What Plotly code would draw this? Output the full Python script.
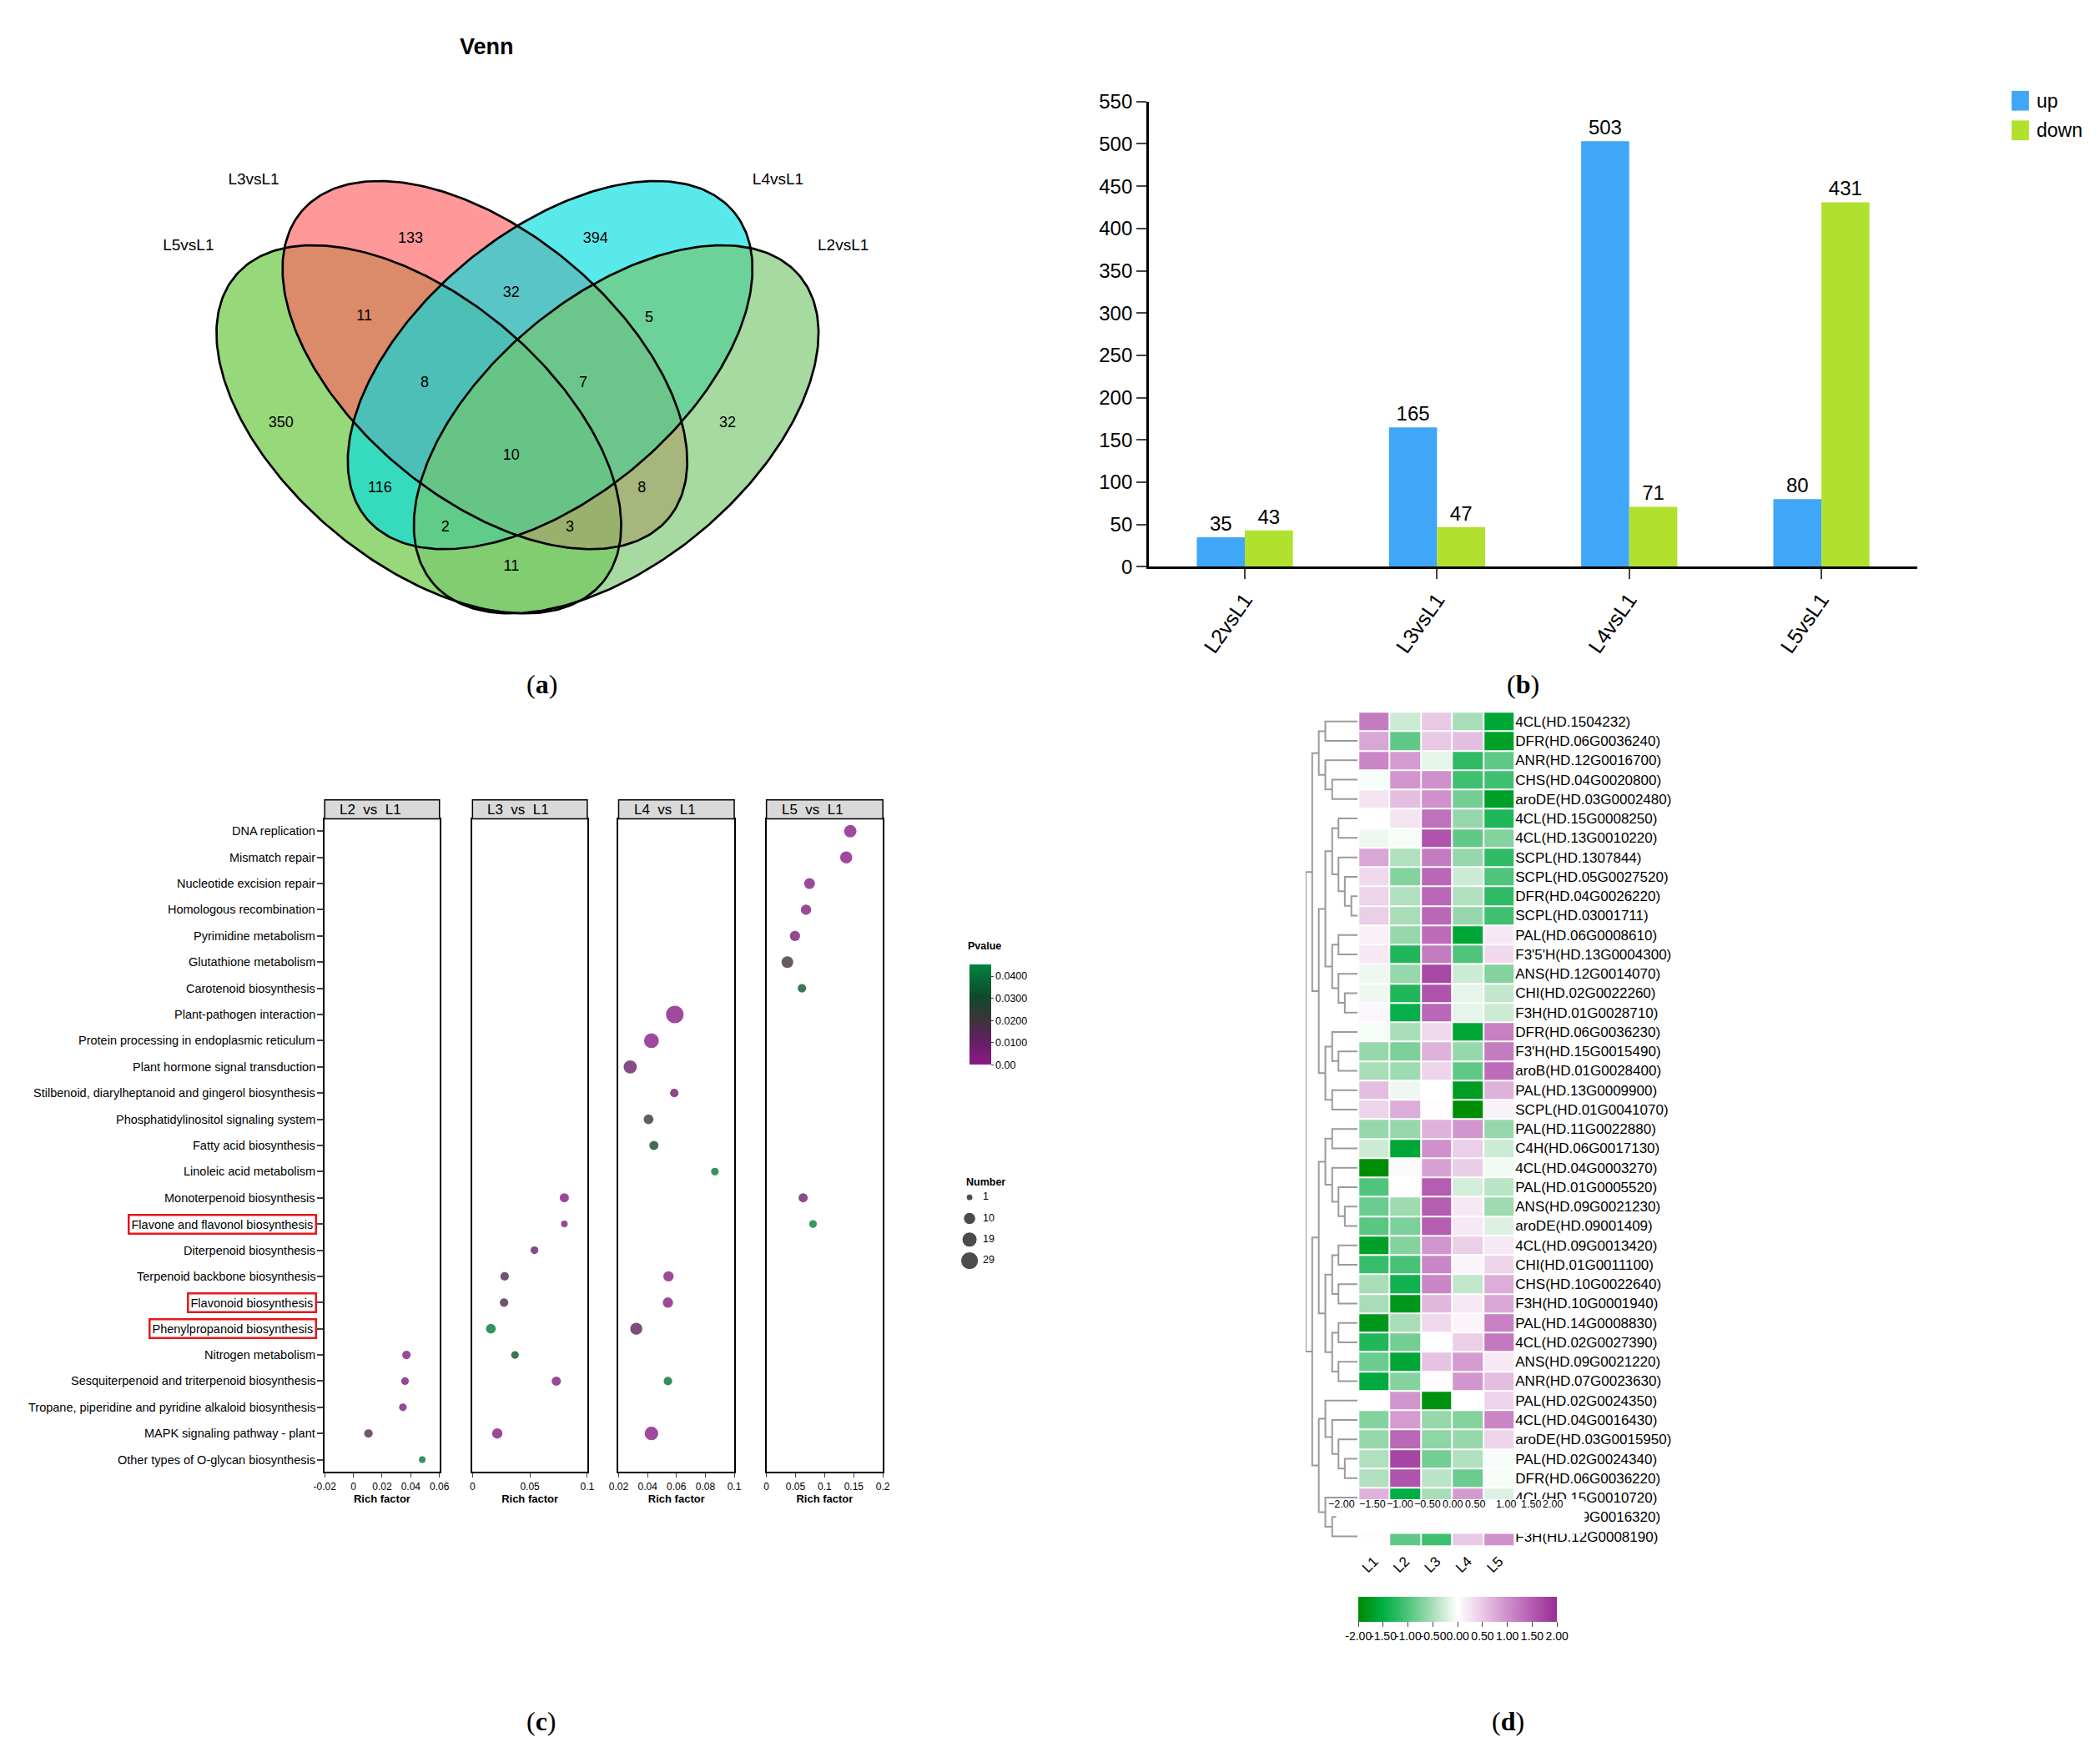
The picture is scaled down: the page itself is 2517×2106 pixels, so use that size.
import numpy as np
import plotly.graph_objects as go

W, H = 2517, 2106
FONT = "Arial, Liberation Sans, sans-serif"
PAGE_MARGIN = 8  # default <body> margin of the page the figure sits in

# ---------------- (a) Venn ----------------
venn_sets = ["L5vsL1", "L3vsL1", "L4vsL1", "L2vsL1"]
venn_regions = ["L3", "L4", "L3&L5", "L3&L4", "L4&L2", "L5", "L3&L4&L5", "L3&L4&L2",
                "L2", "L2&L3&L4&L5", "L4&L5", "L3&L2", "L4&L5&L2", "L3&L5&L2", "L5&L2"]
venn_counts = [133, 394, 11, 32, 5, 350, 8, 7, 32, 10, 116, 8, 2, 3, 11]

# ---------------- (b) DEG counts ----------------
bar_groups = ["L2vsL1", "L3vsL1", "L4vsL1", "L5vsL1"]
bar_up = [35, 165, 503, 80]
bar_down = [43, 47, 71, 431]

# ---------------- (c) KEGG enrichment ----------------
pathways = [
    "DNA replication", "Mismatch repair", "Nucleotide excision repair",
    "Homologous recombination", "Pyrimidine metabolism", "Glutathione metabolism",
    "Carotenoid biosynthesis", "Plant-pathogen interaction",
    "Protein processing in endoplasmic reticulum", "Plant hormone signal transduction",
    "Stilbenoid, diarylheptanoid and gingerol biosynthesis",
    "Phosphatidylinositol signaling system", "Fatty acid biosynthesis",
    "Linoleic acid metabolism", "Monoterpenoid biosynthesis",
    "Flavone and flavonol biosynthesis", "Diterpenoid biosynthesis",
    "Terpenoid backbone biosynthesis", "Flavonoid biosynthesis",
    "Phenylpropanoid biosynthesis", "Nitrogen metabolism",
    "Sesquiterpenoid and triterpenoid biosynthesis",
    "Tropane, piperidine and pyridine alkaloid biosynthesis",
    "MAPK signaling pathway - plant", "Other types of O-glycan biosynthesis",
]
boxed_pathways = ["Flavone and flavonol biosynthesis", "Flavonoid biosynthesis",
                  "Phenylpropanoid biosynthesis"]
facet_titles = ["L2\u00a0\u00a0vs\u00a0\u00a0L1", "L3\u00a0\u00a0vs\u00a0\u00a0L1",
                "L4\u00a0\u00a0vs\u00a0\u00a0L1", "L5\u00a0\u00a0vs\u00a0\u00a0L1"]

l2_terms = ["Nitrogen metabolism", "Sesquiterpenoid and triterpenoid biosynthesis",
            "Tropane, piperidine and pyridine alkaloid biosynthesis",
            "MAPK signaling pathway - plant", "Other types of O-glycan biosynthesis"]
l2_rich = [0.037, 0.036, 0.0345, 0.0105, 0.048]
l2_p = [0.003, 0.004, 0.004, 0.015, 0.042]
l2_num = [3, 2, 2, 3, 1]

l3_terms = ["Monoterpenoid biosynthesis", "Flavone and flavonol biosynthesis",
            "Diterpenoid biosynthesis", "Terpenoid backbone biosynthesis",
            "Flavonoid biosynthesis", "Phenylpropanoid biosynthesis", "Nitrogen metabolism",
            "Sesquiterpenoid and triterpenoid biosynthesis", "MAPK signaling pathway - plant"]
l3_rich = [0.080, 0.080, 0.054, 0.028, 0.0275, 0.016, 0.037, 0.073, 0.0216]
l3_p = [0.002, 0.004, 0.010, 0.016, 0.017, 0.042, 0.033, 0.003, 0.002]
l3_num = [4, 1, 2, 3, 3, 5, 2, 4, 6]

l4_terms = ["Plant-pathogen interaction", "Protein processing in endoplasmic reticulum",
            "Plant hormone signal transduction",
            "Stilbenoid, diarylheptanoid and gingerol biosynthesis",
            "Phosphatidylinositol signaling system", "Fatty acid biosynthesis",
            "Linoleic acid metabolism", "Terpenoid backbone biosynthesis",
            "Flavonoid biosynthesis", "Phenylpropanoid biosynthesis",
            "Sesquiterpenoid and triterpenoid biosynthesis", "MAPK signaling pathway - plant"]
l4_rich = [0.0589, 0.0427, 0.028, 0.0585, 0.0407, 0.0444, 0.0866, 0.0545, 0.0541,
           0.0322, 0.0541, 0.0427]
l4_p = [0.0005, 0.001, 0.009, 0.008, 0.020, 0.030, 0.042, 0.002, 0.002, 0.012, 0.040, 0.001]
l4_num = [29, 18, 13, 3, 5, 4, 2, 6, 6, 10, 3, 14]

l5_terms = ["DNA replication", "Mismatch repair", "Nucleotide excision repair",
            "Homologous recombination", "Pyrimidine metabolism", "Glutathione metabolism",
            "Carotenoid biosynthesis", "Monoterpenoid biosynthesis",
            "Flavone and flavonol biosynthesis"]
l5_rich = [0.144, 0.137, 0.074, 0.068, 0.049, 0.036, 0.061, 0.063, 0.080]
l5_p = [0.0002, 0.0005, 0.002, 0.003, 0.005, 0.019, 0.033, 0.008, 0.045]
l5_num = [11, 10, 7, 6, 6, 9, 3, 4, 2]

size_legend = [1, 10, 19, 29]

# ---------------- (d) heatmap ----------------
samples = ["L1", "L2", "L3", "L4", "L5"]
genes = [
    "4CL(HD.1504232)", "DFR(HD.06G0036240)", "ANR(HD.12G0016700)", "CHS(HD.04G0020800)",
    "aroDE(HD.03G0002480)", "4CL(HD.15G0008250)", "4CL(HD.13G0010220)", "SCPL(HD.1307844)",
    "SCPL(HD.05G0027520)", "DFR(HD.04G0026220)", "SCPL(HD.03001711)", "PAL(HD.06G0008610)",
    "F3'5'H(HD.13G0004300)", "ANS(HD.12G0014070)", "CHI(HD.02G0022260)", "F3H(HD.01G0028710)",
    "DFR(HD.06G0036230)", "F3'H(HD.15G0015490)", "aroB(HD.01G0028400)", "PAL(HD.13G0009900)",
    "SCPL(HD.01G0041070)", "PAL(HD.11G0022880)", "C4H(HD.06G0017130)", "4CL(HD.04G0003270)",
    "PAL(HD.01G0005520)", "ANS(HD.09G0021230)", "aroDE(HD.09001409)", "4CL(HD.09G0013420)",
    "CHI(HD.01G0011100)", "CHS(HD.10G0022640)", "F3H(HD.10G0001940)", "PAL(HD.14G0008830)",
    "4CL(HD.02G0027390)", "ANS(HD.09G0021220)", "ANR(HD.07G0023630)", "PAL(HD.02G0024350)",
    "4CL(HD.04G0016430)", "aroDE(HD.03G0015950)", "PAL(HD.02G0024340)", "DFR(HD.06G0036220)",
    "4CL(HD.15G0010720)", "ANS(HD.09G0016320)", "F3H(HD.12G0008190)",
]
hm_L1 = [1.2, 0.8, 1.1, -0.05, 0.25, 0.0, -0.1, 0.8, 0.35, 0.4, 0.45, 0.15, 0.2, -0.1,
         -0.1, 0.08, -0.05, -0.6, -0.5, 0.6, 0.4, -0.6, -0.3, -1.95, -1.0, -0.85, -0.95,
         -1.7, -1.15, -0.5, -0.5, -1.8, -1.3, -0.85, -1.55, 0.0, -0.7, -0.6, -0.45, -0.45,
         0.7, 0.2, 0.03]
hm_L2 = [-0.3, -0.9, 0.9, 0.95, 0.6, 0.25, -0.05, -0.45, -0.7, -0.45, -0.5, -0.6, -1.3,
         -0.6, -1.3, -1.45, -0.5, -0.75, -0.55, -0.1, 0.75, -0.6, -1.6, 0.05, 0.0, -0.55,
         -0.75, -0.7, -1.05, -1.4, -1.8, -0.5, -0.8, -1.6, -0.7, 0.95, 0.9, 1.4, 1.75, 1.6,
         -1.5, -0.3, -0.9]
hm_L3 = [0.5, 0.5, -0.15, 1.0, 1.0, 1.3, 1.6, 1.2, 1.4, 1.4, 1.4, 1.35, 1.2, 1.7, 1.6,
         1.4, 0.35, 0.7, 0.4, 0.0, 0.03, 0.7, 1.0, 0.85, 1.5, 1.5, 1.5, 0.95, 1.1, 1.1,
         0.65, 0.35, 0.0, 0.55, 0.03, -1.9, -0.6, -0.65, -0.8, -0.4, -0.5, 0.4, -1.1]
hm_L4 = [-0.5, 0.6, -1.2, -1.1, -0.8, -0.6, -0.9, -0.6, -0.3, -0.45, -0.6, -1.6, -1.0,
         -0.3, -0.15, -0.15, -1.6, -0.6, -0.9, -1.75, -1.95, 0.95, 0.45, 0.45, -0.25, 0.2,
         0.2, 0.45, 0.1, -0.35, 0.2, 0.1, 0.45, 0.9, 0.95, 0.0, -0.7, -0.6, -0.45, -0.85,
         0.9, -0.2, 0.5]
hm_L5 = [-1.6, -1.7, -0.9, -1.1, -1.7, -1.3, -0.7, -1.2, -1.0, -1.2, -1.1, 0.2, 0.35, -0.7,
         -0.35, -0.3, 1.15, 1.2, 1.35, 0.7, 0.12, -0.6, -0.3, -0.08, -0.4, -0.55, -0.2, 0.2,
         0.4, 0.75, 0.8, 1.15, 1.25, 0.2, 0.6, 0.4, 1.1, 0.4, -0.05, -0.05, -0.2, 0.1, 1.0]

# row clustering: (merge height, left, right), leaves = row index
dendro_tree = (190,
    (166,
        (142, (118, 0, 1), (118, 2, (93, 3, 4))),
        (142,
            (118,
                (93, (70, 5, 6), (70, 7, (47, 8, (23, 9, 10)))),
                (93, (70, 11, 12), (70, 13, (47, 14, 15)))),
            (118, (93, 16, (70, 17, 18)), (93, 19, 20)))),
    (166,
        (142,
            (118, (93, 21, 22), (93, 23, (70, 24, (47, 25, 26)))),
            (118, (93, (70, 27, 28), (70, 29, 30)), (93, (70, 31, 32), (70, 33, 34)))),
        (142,
            (118, 35, (93, 36, (70, 37, (47, 38, 39)))),
            (118, 40, (93, 41, 42)))))

# text of the stray colour-key axis printed over the heatmap
stray_ticks = ["\u22122.00", "\u22121.50", "\u22121.00", "\u22120.50", "0.00", "0.50",
               "1.00", "1.50", "2.00"]


# ---------------- helpers ----------------
def fx(p):
    return (p - PAGE_MARGIN) / W


def fy(p):
    return 1 - (p - PAGE_MARGIN) / H


def ellipse(cx, cy, a, b, ang, n=300):
    t = np.linspace(0, 2 * np.pi, n)
    r = np.radians(ang)
    x = cx + a * np.cos(t) * np.cos(r) - b * np.sin(t) * np.sin(r)
    y = cy + a * np.cos(t) * np.sin(r) + b * np.sin(t) * np.cos(r)
    return x, y


def note(text, x, y, size, xanchor="center", **kw):
    return dict(text=text, x=fx(x), y=fy(y), xref="paper", yref="paper", showarrow=False,
                xanchor=xanchor, yanchor="middle",
                font=dict(family=kw.pop("family", FONT), size=size, color="black"), **kw)


fig = go.Figure()
annotations = []
shapes = []
layout_axes = {}

# ======== (a) Venn ========
venn_geom = {"L5vsL1": (493, 507, 40), "L3vsL1": (573, 429, 40),
             "L4vsL1": (652, 429, 140), "L2vsL1": (732, 507, 140)}
venn_fill = {"L5vsL1": "rgba(95,195,51,0.65)", "L3vsL1": "rgba(255,98,98,0.65)",
             "L4vsL1": "rgba(0,221,224,0.65)", "L2vsL1": "rgba(118,198,109,0.65)"}
venn_set_label_xy = {"L5vsL1": (214, 285), "L3vsL1": (293, 205),
                     "L4vsL1": (928, 205), "L2vsL1": (1007, 285)}
venn_label_xy = [(483, 276), (707, 276), (427, 370), (605, 342), (772, 372), (326, 500),
                 (500, 451), (692, 451), (867, 500), (605, 539), (446, 579), (763, 579),
                 (525, 626), (676, 626), (605, 674)]

for s in venn_sets:
    cx, cy, ang = venn_geom[s]
    ex, ey = ellipse(cx, cy, 290, 161, ang)
    fig.add_trace(go.Scatter(x=ex, y=ey, mode="lines", fill="toself",
                             fillcolor=venn_fill[s], line=dict(width=0),
                             hoverinfo="skip", showlegend=False, xaxis="x", yaxis="y"))
for s in venn_sets:
    cx, cy, ang = venn_geom[s]
    ex, ey = ellipse(cx, cy, 290, 161, ang)
    fig.add_trace(go.Scatter(x=ex, y=ey, mode="lines", line=dict(color="black", width=2.7),
                             hoverinfo="skip", showlegend=False, xaxis="x", yaxis="y"))
fig.add_trace(go.Scatter(
    x=[p[0] for p in venn_label_xy], y=[p[1] for p in venn_label_xy],
    text=[str(c) for c in venn_counts], mode="text",
    textfont=dict(family=FONT, size=18, color="black"),
    hoverinfo="skip", showlegend=False, xaxis="x", yaxis="y"))
fig.add_trace(go.Scatter(
    x=[venn_set_label_xy[s][0] for s in venn_sets],
    y=[venn_set_label_xy[s][1] for s in venn_sets],
    text=venn_sets, mode="text", textfont=dict(family=FONT, size=19, color="black"),
    hoverinfo="skip", showlegend=False, xaxis="x", yaxis="y"))
layout_axes["xaxis"] = dict(domain=[fx(20), fx(1240)], range=[20, 1240], visible=False)
layout_axes["yaxis"] = dict(domain=[fy(800), fy(20)], range=[800, 20], visible=False)
annotations.append(note("<b>Venn</b>", 575, 42, 27))

# ======== (b) bars ========
UP_C, DOWN_C = "#40A6F7", "#B0E12F"
for vals, name, col in [(bar_up, "up", UP_C), (bar_down, "down", DOWN_C)]:
    fig.add_trace(go.Bar(x=bar_groups, y=vals, name=name,
                         marker=dict(color=col, line=dict(width=0)),
                         text=vals, textposition="outside", cliponaxis=False,
                         textfont=dict(family=FONT, size=24, color="black"),
                         xaxis="x2", yaxis="y2", showlegend=False))
layout_axes["xaxis2"] = dict(domain=[fx(1377), fx(2308)], anchor="y2", showline=True,
                             linecolor="black", linewidth=2.5, ticks="outside", ticklen=12,
                             tickwidth=2, tickangle=-55,
                             tickfont=dict(family=FONT, size=25, color="black"))
layout_axes["yaxis2"] = dict(domain=[fy(674), fy(109)], anchor="x2", range=[0, 550],
                             tickvals=list(range(0, 551, 50)), showline=True,
                             linecolor="black", linewidth=2.5, ticks="outside", ticklen=12,
                             tickwidth=2, tickfont=dict(family=FONT, size=24, color="black"))
for i, (name, col) in enumerate([("up", UP_C), ("down", DOWN_C)]):
    yc = 108 + 36 * i
    shapes.append(dict(type="rect", xref="paper", yref="paper", x0=fx(2422), x1=fx(2443),
                       y0=fy(yc + 12), y1=fy(yc - 12), fillcolor=col, line=dict(width=0)))
    annotations.append(note(name, 2450, yc, 23, xanchor="left"))

# ======== (c) enrichment bubbles ========
facet_px = [(379, 518), (558, 697), (735, 875), (914, 1055)]
facet_ranges = [[-0.02, 0.06], [0, 0.1], [0.02, 0.1], [0, 0.2]]
facet_ticks = [([-0.02, 0, 0.02, 0.04, 0.06], ["-0.02", "0", "0.02", "0.04", "0.06"]),
               ([0, 0.05, 0.1], ["0", "0.05", "0.1"]),
               ([0.02, 0.04, 0.06, 0.08, 0.1], ["0.02", "0.04", "0.06", "0.08", "0.1"]),
               ([0, 0.05, 0.1, 0.15, 0.2], ["0", "0.05", "0.1", "0.15", "0.2"])]
facet_data = [(l2_terms, l2_rich, l2_p, l2_num), (l3_terms, l3_rich, l3_p, l3_num),
              (l4_terms, l4_rich, l4_p, l4_num), (l5_terms, l5_rich, l5_p, l5_num)]
PANEL_TOP, PANEL_BOT, STRIP_TOP = 980, 1773, 957


def bubble(n):
    return 5 + 3 * np.sqrt(n)


for k, ((terms, rich, pv, num), (x0, x1)) in enumerate(zip(facet_data, facet_px)):
    ax = 3 + k
    fig.add_trace(go.Scatter(
        x=rich, y=[pathways.index(t) for t in terms], mode="markers",
        marker=dict(size=[bubble(n) for n in num], color=pv, coloraxis="coloraxis",
                    opacity=0.8, line=dict(width=0)),
        hoverinfo="skip", showlegend=False, xaxis=f"x{ax}", yaxis=f"y{ax}"))
    tv, tt = facet_ticks[k]
    layout_axes[f"xaxis{ax}"] = dict(
        domain=[fx(x0), fx(x1)], anchor=f"y{ax}", range=facet_ranges[k], tickvals=tv,
        ticktext=tt, showline=True, mirror=True, linecolor="black", linewidth=2,
        ticks="outside", ticklen=5, tickfont=dict(family=FONT, size=12, color="black"),
        title=dict(text="<b>Rich factor</b>", standoff=4,
                   font=dict(family=FONT, size=13, color="black")))
    layout_axes[f"yaxis{ax}"] = dict(
        domain=[fy(PANEL_BOT), fy(PANEL_TOP)], anchor=f"x{ax}", range=[24.47, -0.47],
        showline=True, mirror=True, linecolor="black", linewidth=2,
        tickvals=list(range(len(pathways))) if k == 0 else [],
        ticks="outside" if k == 0 else "", ticklen=7, tickwidth=2, showticklabels=False)
    shapes.append(dict(type="rect", xref="paper", yref="paper", x0=fx(x0), x1=fx(x1),
                       y0=fy(PANEL_TOP), y1=fy(STRIP_TOP), fillcolor="#D9D9D9",
                       line=dict(color="black", width=1.5)))
    annotations.append(note(facet_titles[k], x0 + 0.4 * (x1 - x0),
                            (PANEL_TOP + STRIP_TOP) / 2, 17))

for i, term in enumerate(pathways):
    boxed = term in boxed_pathways
    annotations.append(dict(
        text=term, xref="paper", yref="y3", x=fx(370), y=i, xanchor="right",
        yanchor="middle", showarrow=False, font=dict(family=FONT, size=14.5, color="black"),
        bordercolor="#E8161B" if boxed else "rgba(0,0,0,0)", borderwidth=2.5 if boxed else 0,
        borderpad=2))

pval_scale = [[0, "#8B1A89"], [0.25, "#5F2060"], [0.45, "#3B3539"], [0.68, "#0E4A2A"],
              [1, "#00843F"]]
annotations.append(note("<b>Pvalue</b>", 1156, 1134, 12.5, xanchor="left"))
annotations.append(note("<b>Number</b>", 1154, 1421, 12.5, xanchor="left"))
fig.add_trace(go.Scatter(
    x=[20] * len(size_legend), y=list(range(len(size_legend))), mode="markers",
    marker=dict(size=[bubble(n) for n in size_legend], color="black"),
    hoverinfo="skip", showlegend=False, xaxis="x10", yaxis="y10"))
fig.add_trace(go.Scatter(
    x=[36] * len(size_legend), y=list(range(len(size_legend))), mode="text",
    text=[str(n) for n in size_legend], textposition="middle right",
    textfont=dict(family=FONT, size=12.5, color="black"),
    hoverinfo="skip", showlegend=False, xaxis="x10", yaxis="y10"))
layout_axes["xaxis10"] = dict(domain=[fx(1140), fx(1240)], range=[0, 100], visible=False,
                              anchor="y10")
layout_axes["yaxis10"] = dict(domain=[fy(1528), fy(1428)], range=[3.45, -0.45],
                              visible=False, anchor="x10")

# ======== (d) heatmap + dendrogram ========
HM_X0, HM_X1, HM_Y0, HM_Y1 = 1631, 1820, 850, 1863
z = np.array([hm_L1, hm_L2, hm_L3, hm_L4, hm_L5]).T
fig.add_trace(go.Heatmap(z=z, x=samples, y=list(range(len(genes))), coloraxis="coloraxis2",
                         xgap=2, ygap=2, hoverinfo="skip", xaxis="x8", yaxis="y8"))
layout_axes["xaxis8"] = dict(domain=[fx(HM_X0), fx(HM_X1)], anchor="y8", tickangle=-45,
                             ticks="", ticklabelstandoff=4,
                             tickfont=dict(family=FONT, size=17, color="black"))
layout_axes["yaxis8"] = dict(domain=[fy(HM_Y1), fy(HM_Y0)], anchor="x8", side="right",
                             range=[len(genes) - 0.5, -0.5], tickvals=list(range(len(genes))),
                             ticktext=genes, ticks="",
                             tickfont=dict(family=FONT, size=17, color="black"))

seg_x, seg_y = [], []


def walk(node):
    if isinstance(node, int):
        return float(node), 0.0
    h, left, right = node
    yl, hl = walk(left)
    yr, hr = walk(right)
    seg_x.extend([hl, h, h, hr, None])
    seg_y.extend([yl, yl, yr, yr, None])
    return (yl + yr) / 2, h


walk(dendro_tree)
fig.add_trace(go.Scatter(x=seg_x, y=seg_y, mode="lines", line=dict(color="#9A9A9A", width=2),
                         hoverinfo="skip", showlegend=False, xaxis="x9", yaxis="y9"))
layout_axes["xaxis9"] = dict(domain=[fx(1567), fx(1630)], anchor="y9", range=[190, 0],
                             visible=False)
layout_axes["yaxis9"] = dict(domain=[fy(HM_Y1), fy(HM_Y0)], anchor="x9",
                             range=[len(genes) - 0.5, -0.5], visible=False)

# stray colour-key axis pasted over rows 41-42
shapes.append(dict(type="rect", xref="paper", yref="paper", x0=fx(1604), x1=fx(1905),
                   y0=fy(1848), y1=fy(1806), fillcolor="white", line=dict(width=0),
                   layer="above"))
stray_left = [1593, 1631, 1664, 1697, 1732, 1759, 1796, 1827, 1853]
for t, xp in zip(stray_ticks, stray_left):
    annotations.append(note(t, xp, 1812, 12.5, xanchor="left", borderpad=0))

heat_scale = [[0, "#008A00"], [0.125, "#00AE45"], [0.25, "#4FC47C"], [0.375, "#A8DDB7"],
              [0.5, "#FFFFFF"], [0.625, "#E9C9E5"], [0.75, "#CF90CB"], [0.875, "#B45DB1"],
              [1, "#992C96"]]

# ---- panel letters
for lab, (xp, yp) in zip(["a", "b", "c", "d"], [(642, 816), (1830, 816), (642, 2075),
                                                 (1812, 2075)]):
    annotations.append(note(f"(<b>{lab}</b>)", xp, yp, 32,
                            family="Liberation Serif, DejaVu Serif, serif"))

fig.update_layout(
    width=W, height=H, margin=dict(l=0, r=0, t=0, b=0),
    paper_bgcolor="white", plot_bgcolor="white",
    font=dict(family=FONT, color="black"),
    barmode="group", bargap=0.5, bargroupgap=0,
    showlegend=False,
    annotations=annotations, shapes=shapes,
    coloraxis=dict(colorscale=pval_scale, cmin=0, cmax=0.0452,
                   colorbar=dict(x=fx(1160), xanchor="left", y=fy(1157), yanchor="top",
                                 len=(1279 - 1157) / H, lenmode="fraction", thickness=26,
                                 xpad=0, ypad=0, outlinewidth=0, ticks="outside", ticklen=3,
                                 tickvals=[0, 0.01, 0.02, 0.03, 0.04],
                                 ticktext=["0.00", "0.0100", "0.0200", "0.0300", "0.0400"],
                                 tickfont=dict(family=FONT, size=12.5, color="black"))),
    coloraxis2=dict(colorscale=heat_scale, cmin=-2, cmax=2,
                    colorbar=dict(orientation="h", x=fx(1631), xanchor="left", y=fy(1925),
                                  yanchor="top", len=(1871 - 1631) / W, lenmode="fraction",
                                  thickness=30, xpad=0, ypad=0, outlinewidth=0,
                                  ticks="outside", ticklen=6, tickangle=0,
                                  tickvals=[-2, -1.5, -1, -0.5, 0, 0.5, 1, 1.5, 2],
                                  ticktext=["-2.00", "-1.50", "-1.00", "-0.50", "0.00",
                                            "0.50", "1.00", "1.50", "2.00"],
                                  tickfont=dict(family=FONT, size=14, color="black"))),
    **layout_axes,
)
for k in layout_axes:
    fig.layout[k].showgrid = False
    fig.layout[k].zeroline = False

fig.write_html("out.html")
